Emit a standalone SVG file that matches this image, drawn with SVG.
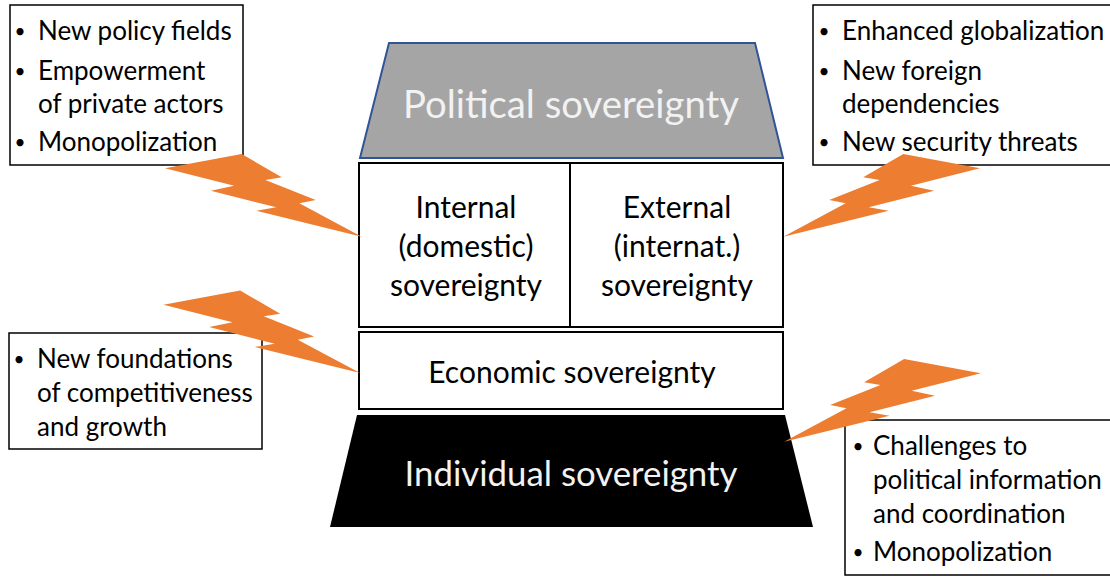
<svg xmlns="http://www.w3.org/2000/svg" width="1110" height="576" viewBox="0 0 1110 576">
<defs>
<style>
.side{font-family:Lato,"Open Sans","Liberation Sans",sans-serif;font-size:26px;fill:#000}
.bul{font-family:Lato,"Open Sans","Liberation Sans",sans-serif;font-size:19px;fill:#000;text-anchor:middle}
.mid{font-family:Lato,"Open Sans","Liberation Sans",sans-serif;font-size:30px;fill:#000;text-anchor:middle}
.big{font-family:Lato,"Open Sans","Liberation Sans",sans-serif;fill:#F2F2F2;text-anchor:middle}
.sbox{fill:#fff;stroke:#000;stroke-width:1.5}
.mbox{fill:#fff;stroke:#000;stroke-width:2}
.bolt{fill:#ED7D31}
</style>
<path id="boltShape" d="M0,3890 L8472,0 L12860,6080 L11050,6797 L16577,12007 L14767,12877 L21600,21600 L10012,14915 L12222,13987 L5022,9705 L7602,8382 Z"/>
</defs>
<rect width="1110" height="576" fill="#fff"/>

<g id="political">
<polygon points="389,43 755,43 783,158 360,158" fill="#A5A5A5" stroke="#2F5597" stroke-width="2"/>
<text class="big" x="571" y="118" font-size="38.3">Political sovereignty</text>
</g>

<g id="internal-external">
<rect class="mbox" x="359" y="163" width="424" height="164"/>
<line x1="570" y1="163" x2="570" y2="327" stroke="#000" stroke-width="2"/>
<g id="internal">
<text class="mid" x="466" y="218">Internal</text>
<text class="mid" x="466" y="257">(domestic)</text>
<text class="mid" x="466" y="296">sovereignty</text>
</g>
<g id="external">
<text class="mid" x="677" y="218">External</text>
<text class="mid" x="677" y="257">(internat.)</text>
<text class="mid" x="677" y="296">sovereignty</text>
</g>
</g>

<g id="economic">
<rect class="mbox" x="359" y="332" width="424" height="77"/>
<text class="mid" x="572" y="383" font-size="30.8">Economic sovereignty</text>
</g>

<g id="individual">
<polygon points="357,415 785,415 813,527 330,527" fill="#000"/>
<text class="big" x="571" y="486" font-size="34.8">Individual sovereignty</text>
</g>

<g id="box-top-left">
<rect class="sbox" x="10" y="5" width="233" height="160"/>
<text class="bul" x="20" y="37.5">•</text><text class="side" x="38" y="39.5">New policy fields</text>
<text class="bul" x="20" y="77.5">•</text><text class="side" x="38" y="79.5">Empowerment</text>
<text class="side" x="38" y="112.5">of private actors</text>
<text class="bul" x="20" y="148.5">•</text><text class="side" x="38" y="150.5">Monopolization</text>
</g>

<g id="box-top-right">
<rect class="sbox" x="813" y="5" width="300" height="160"/>
<text class="bul" x="824" y="37.5">•</text><text class="side" x="842" y="39.5">Enhanced globalization</text>
<text class="bul" x="824" y="77.5">•</text><text class="side" x="842" y="79.5">New foreign</text>
<text class="side" x="842" y="112.5">dependencies</text>
<text class="bul" x="824" y="148.5">•</text><text class="side" x="842" y="150.5">New security threats</text>
</g>

<g id="box-bottom-left">
<rect class="sbox" x="9" y="333" width="253" height="116"/>
<text class="bul" x="19" y="365.5">•</text><text class="side" x="37" y="367.5">New foundations</text>
<text class="side" x="37" y="401.5">of competitiveness</text>
<text class="side" x="37" y="435.5">and growth</text>
</g>

<g id="box-bottom-right">
<rect class="sbox" x="845" y="420" width="270" height="155"/>
<text class="bul" x="858" y="452.5">•</text><text class="side" x="873" y="454.5">Challenges to</text>
<text class="side" x="873" y="488.5">political information</text>
<text class="side" x="873" y="522.5">and coordination</text>
<text class="bul" x="858" y="558.5">•</text><text class="side" x="873" y="560.5">Monopolization</text>
</g>

<g id="connectors">
<use href="#boltShape" class="bolt" transform="matrix(0.009073 0.0000531 0.0000416 0.003797 164.84 153.55)"/>
<use href="#boltShape" class="bolt" transform="matrix(0.009073 0.0000531 0.0000416 0.003797 163.24 289.95)"/>
<use href="#boltShape" class="bolt" transform="matrix(-0.009073 0.0000531 -0.0000416 0.003797 980.16 153.55)"/>
<use href="#boltShape" class="bolt" transform="matrix(-0.009073 0.0000531 -0.0000416 0.003797 981 358.55)"/>
</g>
</svg>
